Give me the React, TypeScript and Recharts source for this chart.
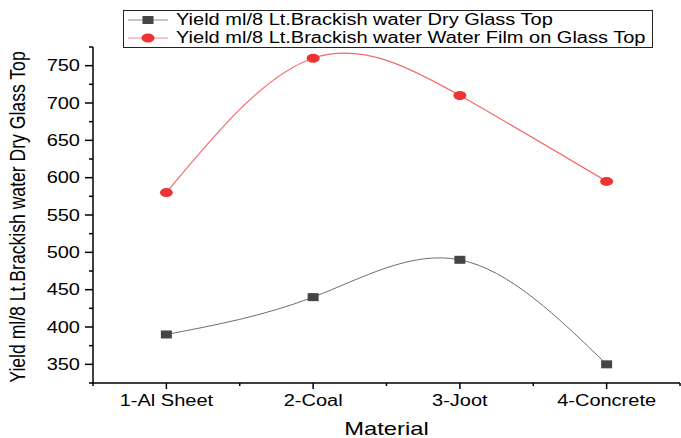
import { Line, LineChart, XAxis, YAxis } from "recharts";

const materials = ["1-Al Sheet", "2-Coal", "3-Joot", "4-Concrete"];
const dryGlassTop = [390, 440, 490, 350];
const waterFilmTop = [580, 760, 710, 595];
const yTicks = [325, 350, 375, 400, 425, 450, 475, 500, 525, 550, 575, 600, 625, 650, 675, 700, 725, 750, 775];
const xTicks = [0.5, 1, 1.5, 2, 2.5, 3, 3.5, 4, 4.5];

const DRY_LABEL = "Yield ml/8 Lt.Brackish water Dry Glass Top";
const FILM_LABEL = "Yield ml/8 Lt.Brackish water Water Film on Glass Top";
const FONT = "'Liberation Sans', Arial, sans-serif";
// the source picture is stretched sideways, so text is widened to match
const STRETCH = 1.25;

const data = materials.map((name, i) => ({
  idx: i + 1,
  name,
  dry: dryGlassTop[i],
  film: waterFilmTop[i],
}));

function WideText({ x, y, anchor, size, children }: any) {
  return (
    <text
      transform={`translate(${x} ${y}) scale(${STRETCH} 1)`}
      textAnchor={anchor}
      fontSize={size}
      fontFamily={FONT}
      fill="#000"
    >
      {children}
    </text>
  );
}

function YTick({ x, y, payload }: any) {
  const major = payload.value % 50 === 0;
  return (
    <g>
      <line x1={x} x2={x - (major ? 8 : 4)} y1={y} y2={y} stroke="#000" strokeWidth={1.5} />
      {major && payload.value !== 775 && (
        <WideText x={x - 13} y={y + 5.5} anchor="end" size={16}>
          {payload.value}
        </WideText>
      )}
    </g>
  );
}

function XTick({ x, y, payload }: any) {
  const major = Number.isInteger(payload.value);
  return (
    <g>
      <line x1={x} x2={x} y1={y} y2={y + (major ? 6 : 3)} stroke="#000" strokeWidth={1.5} />
      {major && (
        <WideText x={x} y={y + 23} anchor="middle" size={16}>
          {materials[payload.value - 1]}
        </WideText>
      )}
    </g>
  );
}

function SquareDot({ cx, cy }: any) {
  if (cx == null || cy == null) return null;
  return <rect x={cx - 5.5} y={cy - 4} width={11} height={8} fill="#454545" />;
}

function CircleDot({ cx, cy }: any) {
  if (cx == null || cy == null) return null;
  return <ellipse cx={cx} cy={cy} rx={6.5} ry={4.5} fill="#ee3333" />;
}

function LegendRow({ color, marker, label }: { color: string; marker: "square" | "circle"; label: string }) {
  return (
    <div style={{ display: "flex", alignItems: "center", height: 18 }}>
      <svg width={44} height={18} style={{ flex: "none" }}>
        <line x1={2} x2={42} y1={9} y2={9} stroke={color} strokeWidth={1.2} />
        {marker === "square" ? (
          <rect x={16.5} y={5} width={11} height={8} fill="#454545" />
        ) : (
          <ellipse cx={22} cy={9} rx={6.5} ry={4.5} fill="#ee3333" />
        )}
      </svg>
      <span
        style={{
          marginLeft: 6,
          fontSize: 16,
          whiteSpace: "nowrap",
          display: "inline-block",
          transform: `scaleX(${STRETCH})`,
          transformOrigin: "left center",
        }}
      >
        {label}
      </span>
    </div>
  );
}

export default function App() {
  return (
    <div style={{ position: "absolute", left: 0, top: 0, width: 681, height: 438, background: "#fff", fontFamily: FONT }}>
      <LineChart width={681} height={438} data={data} margin={{ top: 47, right: 1, bottom: 0, left: 0 }}>
        <XAxis
          dataKey="idx"
          type="number"
          domain={[0.5, 4.5]}
          ticks={xTicks}
          interval={0}
          height={55}
          stroke="#000"
          strokeWidth={1.5}
          tickLine={false}
          tickSize={0}
          tickMargin={0}
          tick={<XTick />}
          label={{
            content: ({ viewBox }: any) => (
              <WideText x={viewBox.x + viewBox.width / 2} y={viewBox.y + 52} anchor="middle" size={19}>
                Material
              </WideText>
            ),
          }}
        />
        <YAxis
          type="number"
          domain={[325, 775]}
          ticks={yTicks}
          interval={0}
          width={93}
          stroke="#000"
          strokeWidth={1.5}
          tickLine={false}
          tickSize={0}
          tickMargin={0}
          tick={<YTick />}
          label={{
            content: ({ viewBox }: any) => {
              const cx = 25;
              const cy = viewBox.y + viewBox.height / 2 + 2;
              return (
                <text
                  transform={`translate(${cx} ${cy}) scale(${STRETCH} 1) rotate(-90)`}
                  textAnchor="middle"
                  fontSize={17.6}
                  fontFamily={FONT}
                  fill="#000"
                >
                  {DRY_LABEL}
                </text>
              );
            },
          }}
        />
        <Line
          type="natural"
          dataKey="dry"
          name={DRY_LABEL}
          stroke="#6e6e6e"
          strokeWidth={1}
          dot={<SquareDot />}
          activeDot={false}
          isAnimationActive={false}
        />
        <Line
          type="natural"
          dataKey="film"
          name={FILM_LABEL}
          stroke="#f36a6a"
          strokeWidth={1.2}
          dot={<CircleDot />}
          activeDot={false}
          isAnimationActive={false}
        />
      </LineChart>
      <div
        style={{
          position: "absolute",
          left: 123,
          top: 10,
          width: 526,
          height: 36,
          border: "1px solid #222",
          padding: "0 0 0 2px",
          display: "flex",
          flexDirection: "column",
          justifyContent: "center",
          color: "#000",
        }}
      >
        <LegendRow color="#8a8a8a" marker="square" label={DRY_LABEL} />
        <LegendRow color="#f58a8a" marker="circle" label={FILM_LABEL} />
      </div>
    </div>
  );
}
